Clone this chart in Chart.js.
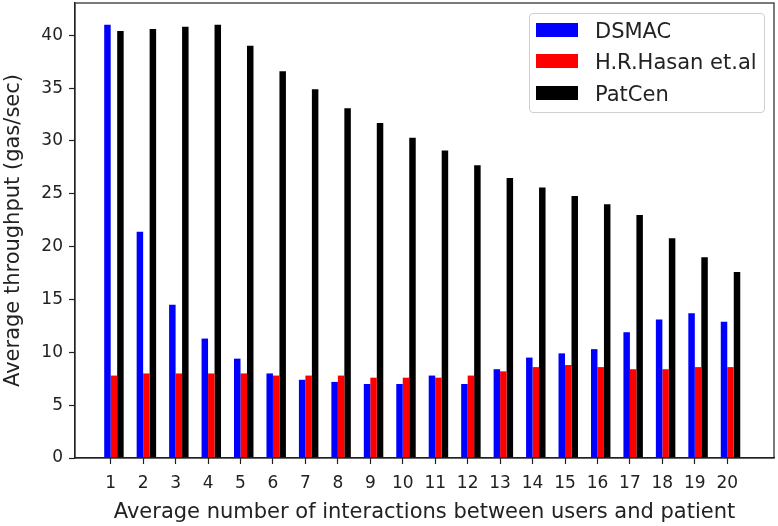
<!DOCTYPE html>
<html>
<head>
<meta charset="utf-8">
<script src="https://cdn.jsdelivr.net/npm/chart.js@4/dist/chart.umd.min.js"></script>
<style>
    body { margin: 0; background: #fff; }
    #wrap { position: relative; width: 778px; height: 526px; }
    #legenda {
        position: absolute; left: 529px; top: 13px; width: 234px; height: 98px;
        border: 1px solid #d0d0d0; border-radius: 4px; background: rgba(255,255,255,0.85);
        font-family: 'DejaVu Sans', sans-serif; font-size: 21px; color: #222;
    }
    #legenda .item { position: absolute; left: 6px; height: 24px; line-height: 24px; white-space: nowrap; }
    #legenda .cor { display: inline-block; width: 42px; height: 14px; vertical-align: middle; margin-right: 17px; position: relative; top: -2px; }
</style>
</head>
<body>
<div id="wrap">
    <canvas id="myChart" width="778" height="526"></canvas>
    <div id="legenda"></div>
</div>
<script>
var categorias = [1, 2, 3, 4, 5, 6, 7, 8, 9, 10, 11, 12, 13, 14, 15, 16, 17, 18, 19, 20];
var dsmac  = [41.0, 21.4, 14.5, 11.3, 9.4, 8.0, 7.4, 7.2, 7.0, 7.0, 7.8, 7.0, 8.4, 9.5, 9.9, 10.3, 11.9, 13.1, 13.7, 12.9];
var hasan  = [7.8, 8.0, 8.0, 8.0, 8.0, 7.8, 7.8, 7.8, 7.6, 7.6, 7.6, 7.8, 8.2, 8.6, 8.8, 8.6, 8.4, 8.4, 8.6, 8.6];
var patcen = [40.4, 40.6, 40.8, 41.0, 39.0, 36.6, 34.9, 33.1, 31.7, 30.3, 29.1, 27.7, 26.5, 25.6, 24.8, 24.0, 23.0, 20.8, 19.0, 17.6];
var yTicks = [0, 5, 10, 15, 20, 25, 30, 35, 40];

var series = [
    { label: 'DSMAC', valores: dsmac, cor: '#0000ff' },
    { label: 'H.R.Hasan et.al', valores: hasan, cor: '#ff0000' },
    { label: 'PatCen', valores: patcen, cor: '#000000' }
];

function pontos(valores) {
    var lista = [];
    for (var i in categorias) {
        lista.push({ x: categorias[i], y: valores === null ? null : valores[i] });
    }
    return lista;
}

// espaco vazio antes do azul, para o tick ficar entre azul e vermelho
var datasets = [{ label: '', data: pontos(null), backgroundColor: 'rgba(0,0,0,0)', borderWidth: 0 }];
for (var s in series) {
    datasets.push({
        label: series[s].label,
        data: pontos(series[s].valores),
        backgroundColor: series[s].cor,
        borderWidth: 0
    });
}

// legenda em html
var txt = '';
for (var s in series) {
    txt += '<div class="item" style="top:' + (5 + s * 31.3) + 'px"><span class="cor" style="background:' + series[s].cor + '"></span>' + series[s].label + '</div>';
}
document.getElementById('legenda').innerHTML = txt;

var moldura = {
    id: 'moldura',
    afterDraw: function (chart) {
        var a = chart.chartArea;
        var ctx = chart.ctx;
        ctx.save();
        ctx.strokeStyle = '#222';
        ctx.lineWidth = 1.2;
        ctx.strokeRect(a.left, a.top, a.right - a.left, a.bottom - a.top);
        ctx.restore();
    }
};

Chart.defaults.font.family = "'DejaVu Sans', sans-serif";
Chart.defaults.color = '#222';

var ctx = document.getElementById('myChart').getContext('2d');
var myChart = new Chart(ctx, {
    type: 'bar',
    data: { datasets: datasets },
    plugins: [moldura],
    options: {
        responsive: false,
        animation: false,
        layout: { padding: { top: 3, right: 4, left: 0, bottom: 0 } },
        datasets: { bar: { categoryPercentage: 0.8, barPercentage: 1.0 } },
        plugins: { legend: { display: false }, tooltip: { enabled: false } },
        scales: {
            x: {
                type: 'linear',
                min: -0.10,
                max: 21.44,
                offset: false,
                afterBuildTicks: function (scale) {
                    scale.ticks = categorias.map(function (v) { return { value: v }; });
                },
                afterFit: function (scale) {
                    scale.height = 68;
                    scale.paddingLeft = 0;
                    scale.paddingRight = 0;
                },
                grid: { display: true, drawOnChartArea: false, offset: false, tickLength: 6, color: '#222', tickWidth: 1.2 },
                border: { display: true, color: '#222', width: 1.2 },
                ticks: { font: { size: 17 }, padding: 9, maxRotation: 0, autoSkip: false },
                title: { display: true, text: 'Average number of interactions between users and patient', font: { size: 21 }, padding: { top: 2, bottom: 1 } }
            },
            y: {
                min: 0,
                max: 43.05,
                afterBuildTicks: function (scale) {
                    scale.ticks = yTicks.map(function (v) { return { value: v }; });
                },
                afterFit: function (scale) {
                    scale.width = 75;
                    scale.paddingTop = 0;
                    scale.paddingBottom = 0;
                },
                grid: { display: true, drawOnChartArea: false, tickLength: 6, color: '#222', tickWidth: 1.2 },
                border: { display: true, color: '#222', width: 1.2 },
                ticks: { font: { size: 17 }, padding: 6 },
                title: { display: true, text: 'Average throughput (gas/sec)', font: { size: 21 }, padding: { top: 1, bottom: 2 } }
            }
        }
    }
});
</script>
</body>
</html>
